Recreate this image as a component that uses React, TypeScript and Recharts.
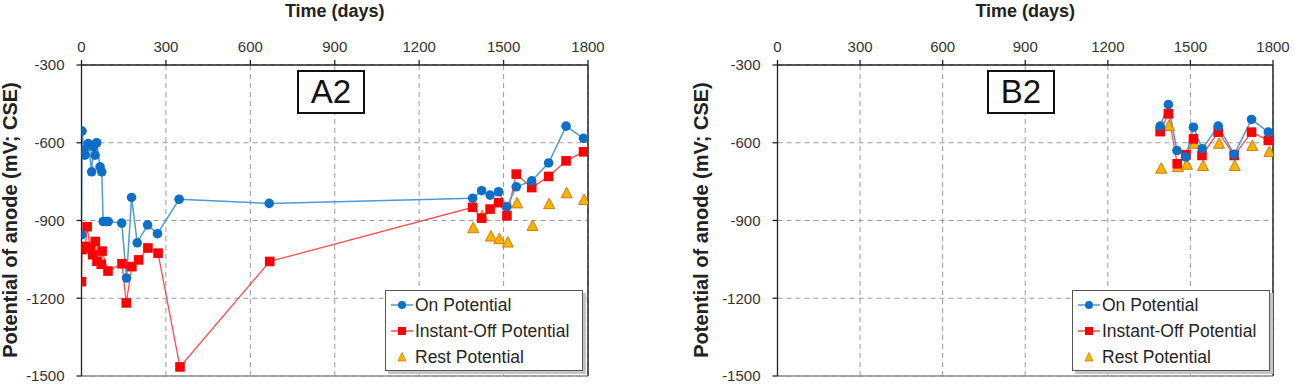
import React from "react";
import { LineChart, Line, XAxis, YAxis, CartesianGrid, ReferenceLine, Legend } from "recharts";

const dayTicks = [0, 300, 600, 900, 1200, 1500, 1800];
const mvTicks = [-1500, -1200, -900, -600, -300];
const legendNames = ["On Potential", "Instant-Off Potential", "Rest Potential"];

// A2 anode
const a2OnDays = [0, 2, 9, 12, 24, 36, 42, 48, 54, 66, 72, 77, 89, 95, 143, 160, 178, 198, 235, 270, 347, 667, 1390, 1422, 1452, 1482, 1512, 1545, 1600, 1660, 1722, 1784];
const a2OnMv = [-955, -555, -628, -648, -603, -712, -616, -648, -600, -693, -712, -904, -904, -904, -910, -1122, -811, -986, -917, -951, -818, -834, -814, -785, -802, -789, -847, -770, -747, -678, -536, -583];
const a2OffDays = [0, 2, 14, 20, 31, 40, 49, 55, 70, 73, 94, 144, 159, 179, 203, 236, 272, 350, 669, 1390, 1422, 1452, 1482, 1512, 1545, 1600, 1660, 1722, 1784];
const a2OffMv = [-1136, -1012, -1000, -924, -1006, -1032, -981, -1057, -1069, -1018, -1095, -1067, -1218, -1078, -1052, -1006, -1026, -1465, -1058, -849, -891, -856, -831, -882, -721, -773, -730, -670, -635];
const a2RestDays = [1392, 1424, 1455, 1485, 1515, 1548, 1603, 1662, 1724, 1786];
const a2RestMv = [-930, -883, -962, -972, -985, -834, -921, -837, -795, -821];

// B2 anode
const b2OnDays = [1390, 1420, 1451, 1483, 1511, 1543, 1601, 1659, 1722, 1783];
const b2OnMv = [-536, -453, -630, -655, -540, -623, -536, -645, -510, -559];
const b2OffDays = [1390, 1420, 1452, 1484, 1511, 1542, 1601, 1659, 1722, 1783];
const b2OffMv = [-557, -488, -681, -646, -585, -649, -559, -649, -559, -591];
const b2RestDays = [1394, 1422, 1455, 1487, 1515, 1546, 1604, 1661, 1725, 1787];
const b2RestMv = [-700, -536, -694, -685, -604, -690, -604, -690, -613, -636];

const FONT = "'Liberation Sans', Arial, sans-serif";
const BLUE = "#0f6fc6";
const BLUE_LINE = "#4b9ad9";
const RED = "#ff0000";
const RED_LINE = "#ff4d4d";
const GOLD = "#f7b500";
const GOLD_EDGE = "#d9770f";

const pts = (days: number[], mv: number[]) => days.map((t, i) => ({ t, v: mv[i] }));

const Circle = (p: any) => <circle key={`c${p.index}`} cx={p.cx} cy={p.cy} r={4.8} fill={BLUE} />;
const Square = (p: any) => (
  <rect key={`s${p.index}`} x={p.cx - 4.8} y={p.cy - 4.8} width={9.6} height={9.6} fill={RED} />
);
const Triangle = (p: any) => (
  <polygon
    key={`t${p.index}`}
    points={`${p.cx},${p.cy - 6} ${p.cx - 5.5},${p.cy + 4.5} ${p.cx + 5.5},${p.cy + 4.5}`}
    fill={GOLD}
    stroke={GOLD_EDGE}
    strokeWidth={1}
  />
);

const LegendBox = () => (
  <div
    style={{
      width: 198,
      height: 81,
      boxSizing: "border-box",
      border: "1px solid #555",
      background: "#fff",
      boxShadow: "3px 3px 0 #c4c4c4",
      fontFamily: FONT,
      fontSize: 17.5,
      color: "#262626",
      padding: "1px 0 0 4px",
    }}
  >
    {legendNames.map((name, i) => (
      <div key={name} style={{ display: "flex", alignItems: "center", height: 26 }}>
        <svg width={24} height={14} style={{ marginRight: 1 }}>
          {i === 0 && (
            <g>
              <line x1={1} y1={7} x2={23} y2={7} stroke={BLUE_LINE} strokeWidth={1.5} />
              <circle cx={12} cy={7} r={4} fill={BLUE} />
            </g>
          )}
          {i === 1 && (
            <g>
              <line x1={1} y1={7} x2={23} y2={7} stroke={RED_LINE} strokeWidth={1.5} />
              <rect x={8} y={3} width={8} height={8} fill={RED} />
            </g>
          )}
          {i === 2 && <polygon points="12,2.5 8,11 16,11" fill={GOLD} stroke={GOLD_EDGE} strokeWidth={0.8} />}
        </svg>
        <span>{name}</span>
      </div>
    ))}
  </div>
);

type PanelProps = {
  left: number;
  width: number;
  marginLeft: number;
  marginRight: number;
  tag: string;
  tagLeft: number;
  legendLeft: number;
  yLabelX: number;
  on: { t: number; v: number }[];
  off: { t: number; v: number }[];
  rest: { t: number; v: number }[];
};

const Panel = (props: PanelProps) => {
  const plotLeft = props.marginLeft + 81.5;
  const plotRight = props.width - props.marginRight;
  const tickStyle = { fontFamily: FONT, fontSize: 15, fill: "#333" };
  return (
    <div style={{ position: "absolute", left: props.left, top: 0, width: props.width, height: 384 }}>
      <LineChart
        width={props.width}
        height={384}
        margin={{ top: 30, right: props.marginRight, bottom: 8, left: props.marginLeft }}
      >
        <CartesianGrid stroke="#9a9a9a" strokeDasharray="5 4" strokeWidth={1} />
        <XAxis
          dataKey="t"
          type="number"
          orientation="top"
          domain={[0, 1800]}
          ticks={dayTicks}
          interval={0}
          height={35}
          tickSize={5}
          tickMargin={8}
          tick={tickStyle}
          stroke="#222"
          strokeWidth={1.3}
          allowDataOverflow
        />
        <YAxis
          type="number"
          domain={[-1500, -300]}
          ticks={mvTicks}
          interval={0}
          width={81.5}
          tickSize={5}
          tickMargin={12}
          tick={tickStyle}
          stroke="#222"
          strokeWidth={1.3}
          allowDataOverflow
        />
        <ReferenceLine x={1800} stroke="#333" strokeWidth={1.6} />
        <ReferenceLine y={-1500} stroke="#8c8c8c" strokeWidth={1.3} />
        <Line
          data={props.rest}
          dataKey="v"
          stroke="none"
          dot={Triangle}
          activeDot={false}
          legendType="none"
          isAnimationActive={false}
        />
        <Line
          data={props.off}
          dataKey="v"
          stroke={RED_LINE}
          strokeWidth={1.3}
          dot={Square}
          activeDot={false}
          isAnimationActive={false}
        />
        <Line
          data={props.on}
          dataKey="v"
          stroke={BLUE_LINE}
          strokeWidth={1.5}
          dot={Circle}
          activeDot={false}
          isAnimationActive={false}
        />
        <Legend
          layout="vertical"
          align="center"
          verticalAlign="middle"
          content={LegendBox}
          wrapperStyle={{ left: props.legendLeft, top: 290, width: "auto", height: "auto" }}
        />
      </LineChart>
      <div
        style={{
          position: "absolute",
          left: (plotLeft + plotRight) / 2 - 80,
          width: 160,
          top: 1,
          textAlign: "center",
          fontFamily: FONT,
          fontWeight: "bold",
          fontSize: 18,
          color: "#222",
        }}
      >
        Time (days)
      </div>
      <div
        style={{
          position: "absolute",
          left: props.yLabelX - 160,
          top: 220 - 12,
          width: 320,
          height: 24,
          lineHeight: "24px",
          textAlign: "center",
          transform: "rotate(-90deg)",
          fontFamily: FONT,
          fontWeight: "bold",
          fontSize: 20,
          color: "#222",
        }}
      >
        Potential of anode (mV; CSE)
      </div>
      <div
        style={{
          position: "absolute",
          left: props.tagLeft,
          top: 70,
          width: 68,
          height: 44,
          boxSizing: "border-box",
          border: "2px solid #111",
          background: "#fff",
          textAlign: "center",
          lineHeight: "40px",
          fontFamily: FONT,
          fontSize: 33,
          color: "#111",
        }}
      >
        {props.tag}
      </div>
    </div>
  );
};

export default function App() {
  return (
    <div style={{ position: "absolute", left: 0, top: 0, width: 1301, height: 384, background: "#fff" }}>
      <Panel
        left={0}
        width={640}
        marginLeft={0}
        marginRight={52}
        tag="A2"
        tagLeft={297}
        legendLeft={385}
        yLabelX={10}
        on={pts(a2OnDays, a2OnMv)}
        off={pts(a2OffDays, a2OffMv)}
        rest={pts(a2RestDays, a2RestMv)}
      />
      <Panel
        left={640}
        width={661}
        marginLeft={56}
        marginRight={28}
        tag="B2"
        tagLeft={347}
        legendLeft={432}
        yLabelX={61}
        on={pts(b2OnDays, b2OnMv)}
        off={pts(b2OffDays, b2OffMv)}
        rest={pts(b2RestDays, b2RestMv)}
      />
    </div>
  );
}
